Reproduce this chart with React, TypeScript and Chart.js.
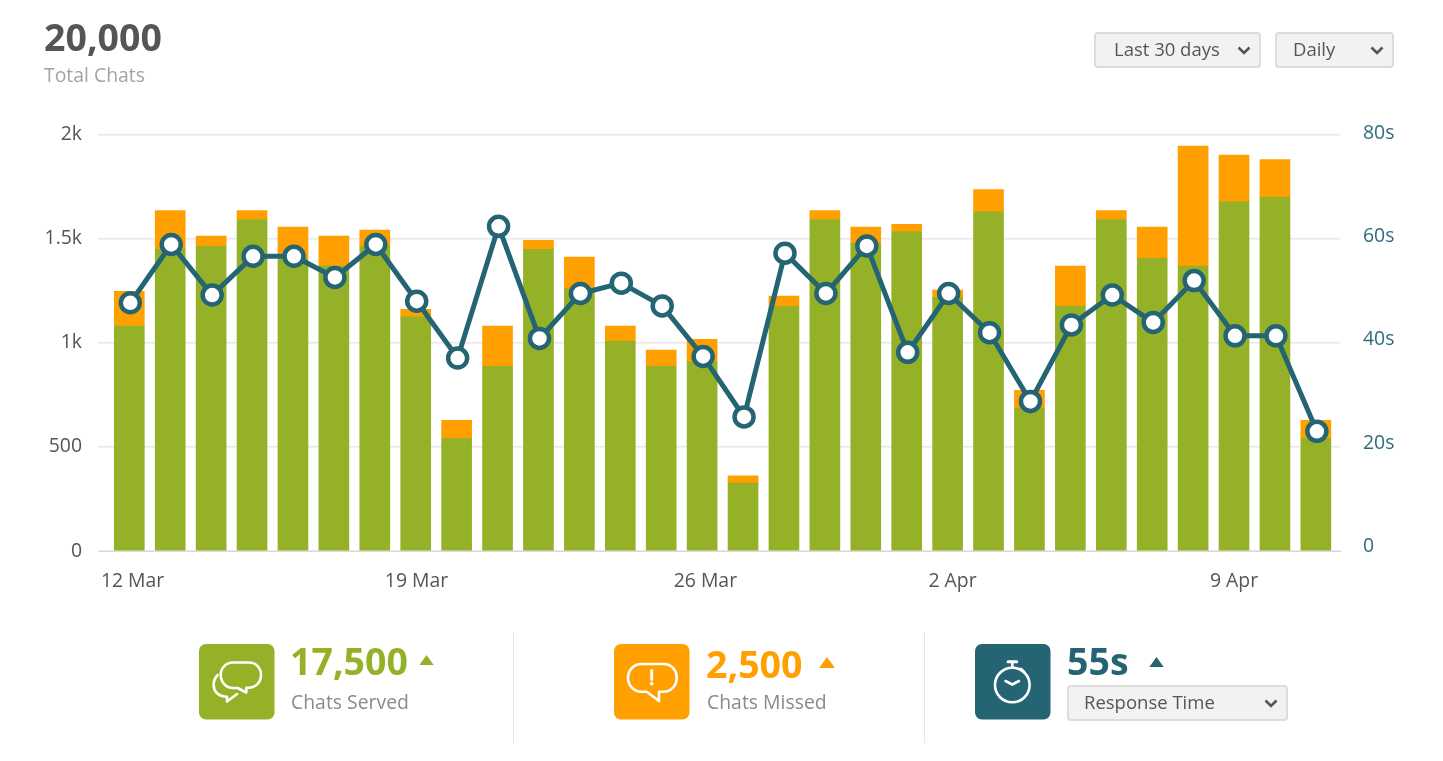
import React, { useEffect, useRef } from "react";
import { Chart, registerables } from "chart.js";

Chart.register(...registerables);

const GREEN = "#94b127";
const ORANGE = "#ffa000";
const TEAL = "#256473";
const FONT = '"Open Sans", sans-serif';

const dayIndex = [0,1,2,3,4,5,6,7,8,9,10,11,12,13,14,15,16,17,18,19,20,21,22,23,24,25,26,27,28,29];
const chatsServed = [1080,1448,1463,1592,1402,1368,1463,1124,540,887,1448,1259,1008,887,908,326,1175,1592,1477,1533,1218,1629,686,1176,1592,1405,1368,1677,1699,540];
const chatsMissed = [167,187,49,43,153,144,78,37,88,193,44,152,72,78,109,35,49,43,78,36,35,107,86,192,43,150,576,224,181,88];
const responseTime = [47.2,58.5,48.7,56.2,56.2,52.1,58.5,47.5,36.5,62,40.3,49,51,46.6,36.8,25.1,56.8,49,58.2,37.6,49,41.4,28.1,42.9,48.7,43.4,51.5,40.8,40.8,22.3];

const dateLabels = ["12 Mar", "19 Mar", "26 Mar", "2 Apr", "9 Apr"];
const dateTickPositions = [0.08, 7.02, 14.08, 20.12, 27.0];
const chatTicks = [0, 500, 1000, 1500, 2000];
const chatTickLabels = ["0", "500", "1k", "1.5k", "2k"];
const timeTicks = [0, 20, 40, 60, 80];
const timeTickLabels = ["0", "20s", "40s", "60s", "80s"];

function Txt({ x, cy, size, color, weight = 400, children }: any) {
  const lh = Math.round(size * 1.4);
  return (
    <div
      style={{
        position: "absolute",
        left: x,
        top: cy - lh / 2 - 0.031 * size,
        fontFamily: FONT,
        fontSize: size,
        lineHeight: `${lh}px`,
        color,
        fontWeight: weight,
        whiteSpace: "nowrap",
      }}
    >
      {children}
    </div>
  );
}

function Dropdown({ x, y, w, h, label, textX }: any) {
  return (
    <div
      style={{
        position: "absolute",
        left: x,
        top: y,
        width: w,
        height: h,
        boxSizing: "border-box",
        background: "#f2f2f2",
        border: "2px solid #dcdcdc",
        borderRadius: 4,
      }}
    >
      <div
        style={{
          position: "absolute",
          left: textX - 2,
          top: -1,
          height: h - 4,
          lineHeight: `${h - 4}px`,
          fontFamily: FONT,
          fontSize: 18.5,
          fontWeight: 500,
          color: "#555",
          whiteSpace: "nowrap",
        }}
      >
        {label}
      </div>
      <svg style={{ position: "absolute", right: 8, top: (h - 4) / 2 - 4 }} width="14" height="9" viewBox="0 0 14 9">
        <path d="M1.5 1.5 L7 7 L12.5 1.5" fill="none" stroke="#555" strokeWidth="2.6" />
      </svg>
    </div>
  );
}

function IconBox({ x, color, children }: any) {
  return (
    <svg style={{ position: "absolute", left: x, top: 644 }} width="76" height="76" viewBox="0 0 76 76">
      <rect x="0" y="0" width="75.5" height="75.5" rx="7" fill={color} />
      <g fill="none" stroke="#fff" strokeWidth="2.6" strokeLinejoin="round" strokeLinecap="round">
        {children}
      </g>
    </svg>
  );
}

function Tri({ x, y, w, h, color }: any) {
  return (
    <svg style={{ position: "absolute", left: x, top: y }} width={w} height={h} viewBox={`0 0 ${w} ${h}`}>
      <path d={`M0 ${h} L${w / 2} 0 L${w} ${h} Z`} fill={color} />
    </svg>
  );
}

function Divider({ x }: any) {
  return <div style={{ position: "absolute", left: x, top: 632, width: 1, height: 111, background: "#e6e6e6" }} />;
}

export default function App() {
  const ref = useRef<HTMLCanvasElement>(null);
  useEffect(() => {
    const chart = new Chart(ref.current as any, {
      type: "bar",
      data: {
        datasets: [
          {
            type: "line",
            label: "Response Time",
            data: dayIndex.map((d, i) => ({ x: d + 0.025, y: responseTime[i] })),
            yAxisID: "y1",
            borderColor: TEAL,
            borderWidth: 5,
            tension: 0,
            pointRadius: 9.5,
            pointBorderWidth: 4.5,
            pointBackgroundColor: "#fff",
            pointBorderColor: TEAL,
            order: 0,
          },
          {
            label: "Chats Served",
            data: dayIndex.map((d, i) => ({ x: d, y: chatsServed[i] })),
            backgroundColor: GREEN,
            barThickness: 30,
            stack: "chats",
            yAxisID: "y",
            order: 1,
          },
          {
            label: "Chats Missed",
            data: dayIndex.map((d, i) => ({ x: d, y: chatsMissed[i] })),
            backgroundColor: ORANGE,
            barThickness: 30,
            stack: "chats",
            yAxisID: "y",
            order: 1,
          },
        ] as any,
      },
      options: {
        animation: false,
        responsive: false,
        layout: { padding: { top: 134.5, left: 0, right: 0, bottom: 0 } },
        plugins: { legend: { display: false }, tooltip: { enabled: false } },
        scales: {
          x: {
            type: "linear",
            stacked: true,
            offset: false,
            min: -0.765,
            max: 29.59,
            afterFit: (s: any) => { s.height = 210; },
            afterBuildTicks: (s: any) => { s.ticks = dateTickPositions.map((value) => ({ value })); },
            grid: { display: false, drawTicks: false, offset: false },
            border: { color: "#d9d9d9", width: 1 },
            ticks: {
              autoSkip: false,
              maxRotation: 0,
              padding: 19,
              color: "#555",
              font: { family: FONT, size: 19.4 },
              callback: (_v: any, i: number) => dateLabels[i],
            },
          },
          y: {
            stacked: true,
            position: "left",
            min: 0,
            max: 2000,
            afterFit: (s: any) => { s.width = 98; },
            afterBuildTicks: (s: any) => { s.ticks = chatTicks.map((value) => ({ value })); },
            grid: { color: "#e8e8e8", lineWidth: 1.5, drawTicks: false },
            border: { display: false },
            ticks: {
              autoSkip: false,
              padding: 16,
              color: "#555",
              font: { family: FONT, size: 19.4 },
              callback: (_v: any, i: number) => chatTickLabels[i],
            },
          },
          y1: {
            position: "right",
            min: -0.87,
            max: 79.79,
            afterFit: (s: any) => { s.width = 103; },
            afterBuildTicks: (s: any) => { s.ticks = timeTicks.map((value) => ({ value })); },
            grid: { display: false, drawTicks: false },
            border: { display: false },
            ticks: {
              autoSkip: false,
              padding: 23,
              color: "#2f6c7c",
              font: { family: FONT, size: 19.4 },
              callback: (_v: any, i: number) => timeTickLabels[i],
            },
          },
        },
      } as any,
    });
    return () => chart.destroy();
  }, []);

  return (
    <div style={{ position: "absolute", left: 0, top: 0, width: 1443, height: 761, overflow: "hidden", background: "#fff" }}>
      <canvas ref={ref} width={1443} height={761} style={{ position: "absolute", left: 0, top: 0, width: 1443, height: 761 }} />

      <Txt x={44} cy={38} size={37.5} color="#555" weight={700}>20,000</Txt>
      <Txt x={44} cy={75.5} size={19.4} color="#a3a3a3">Total Chats</Txt>

      <Dropdown x={1094} y={32} w={167} h={36} label="Last 30 days" textX={20} />
      <Dropdown x={1275} y={32} w={119} h={36} label="Daily" textX={18} />

      <IconBox x={198.5} color={GREEN}>
        <path d="M34 18.5 H50 C57 18.5 62 24 62 31 C62 38 57 43.7 50 43.7 H47.3 V48.5 L38.6 44 H34 C27 44 21.7 38 21.7 31 C21.7 24 27 18.5 34 18.5 Z" />
        <path d="M18.6 31 C15.8 34 14.6 37.5 14.6 41 C14.6 47 19 52 26.3 52.7 L28 52.7 V57.5 L38 50" />
      </IconBox>
      <Txt x={290} cy={662} size={37.5} color={GREEN} weight={700}>17,500</Txt>
      <Tri x={419} y={654.5} w={15} h={10.5} color={GREEN} />
      <Txt x={291} cy={702.5} size={19.4} color="#8a8a8a">Chats Served</Txt>
      <Divider x={513} />

      <IconBox x={614} color={ORANGE}>
        <path d="M27 20 H50 C57 20 62.7 26 62.7 33.8 C62.7 41.5 57 47.7 50 47.7 H45 V57 L32.7 47.7 H27 C20 47.7 14 41.5 14 33.8 C14 26 20 20 27 20 Z" />
        <path d="M37.7 26.5 V35.5" strokeWidth="3" />
        <path d="M37.7 39.6 V39.7" strokeWidth="3.6" />
      </IconBox>
      <Txt x={706} cy={665} size={37.5} color={ORANGE} weight={700}>2,500</Txt>
      <Tri x={819} y={657} w={16} h={11} color={ORANGE} />
      <Txt x={707} cy={702.5} size={19.4} color="#8a8a8a">Chats Missed</Txt>
      <Divider x={924} />

      <IconBox x={975} color={TEAL}>
        <circle cx="37.3" cy="41" r="17.3" />
        <path d="M37.3 18 V23.5" />
        <path d="M33 17.7 H41.7" strokeWidth="3" />
        <path d="M46 25.2 L49 28" strokeWidth="3" />
        <path d="M30.5 37 L37.3 40.5 L44 37" />
      </IconBox>
      <Txt x={1067} cy={662} size={37.5} color={TEAL} weight={700}>55s</Txt>
      <Tri x={1149} y={656.5} w={15} h={10.5} color={TEAL} />
      <Dropdown x={1067} y={685} w={221} h={36} label="Response Time" textX={17} />
    </div>
  );
}
